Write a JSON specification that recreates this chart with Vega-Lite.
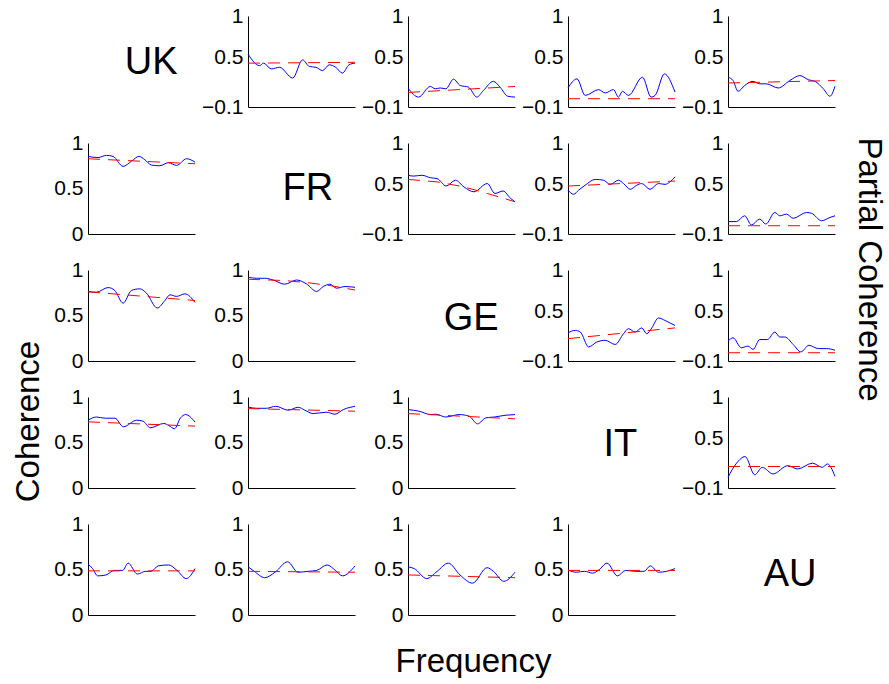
{
"$schema": "https://vega.github.io/schema/vega-lite/v6.json",
"background": "white",
"padding": {"left": 11, "top": 5, "right": 6, "bottom": 0},
"config": {
 "view": {"stroke": null},
 "font": "Liberation Sans",
 "axisX": {"labels": false, "ticks": false, "grid": false, "domainColor": "#000", "domainWidth": 1},
 "axisY": {"ticks": false, "grid": false, "domainColor": "#000", "domainWidth": 1, "labelFontSize": 21, "labelColor": "#000", "labelPadding": 5, "labelFont": "Liberation Sans"},
 "axis": {"titleFont": "Liberation Sans", "titleFontWeight": "normal", "titleColor": "#000", "titleFontSize": 33},
 "text": {"font": "Liberation Sans", "fontSize": 38, "color": "#000"}
},
"datasets": {
 "p12": [{"f":0,"c":0.54,"r":0.43},{"f":10.8,"c":0.40},{"f":14.6,"c":0.43},{"f":21.7,"c":0.36},{"f":29.4,"c":0.38},{"f":41.8,"c":0.25},{"f":51,"c":0.47},{"f":57.3,"c":0.39},{"f":63.5,"c":0.38},{"f":69.7,"c":0.34},{"f":75.9,"c":0.41},{"f":82,"c":0.38},{"f":88.2,"c":0.31},{"f":94.4,"c":0.41},{"f":100,"c":0.43,"r":0.44}],
 "p13": [{"f":0,"c":0.13,"r":0.076},{"f":9.9,"c":0.02},{"f":20.8,"c":0.148},{"f":25.5,"c":0.12},{"f":30.1,"c":0.13},{"f":35.4,"c":0.12},{"f":42.5,"c":0.236},{"f":48.8,"c":0.16},{"f":56.5,"c":0.14},{"f":64.3,"c":0.02},{"f":70.5,"c":0.10},{"f":79.8,"c":0.21},{"f":86,"c":0.14},{"f":93.2,"c":0.03},{"f":100,"c":0.02,"r":0.148}],
 "p14": [{"f":0,"c":0.13,"r":0.0},{"f":8.4,"c":0.24},{"f":16.1,"c":0.04},{"f":28.6,"c":0.11},{"f":34.8,"c":0.07},{"f":42.5,"c":0.11},{"f":47.2,"c":0.02},{"f":50.9,"c":0.09},{"f":56.5,"c":0.04},{"f":69.6,"c":0.26},{"f":77.6,"c":0.02},{"f":81.4,"c":0.04},{"f":90.1,"c":0.30},{"f":100,"c":0.08,"r":0.0}],
 "p15": [{"f":0,"c":0.26,"r":0.19},{"f":4.7,"c":0.22},{"f":9.4,"c":0.09},{"f":15.6,"c":0.16},{"f":23.4,"c":0.21},{"f":29.7,"c":0.18},{"f":35.9,"c":0.18},{"f":46.9,"c":0.13},{"f":57.8,"c":0.22},{"f":67.2,"c":0.28},{"f":75,"c":0.23},{"f":81.3,"c":0.21},{"f":89.1,"c":0.12},{"f":95.3,"c":0.03},{"f":100,"c":0.15,"r":0.22}],
 "p21": [{"f":0,"c":0.853,"r":0.827},{"f":9.4,"c":0.84},{"f":17.2,"c":0.864},{"f":23.4,"c":0.853},{"f":32.8,"c":0.743},{"f":40.6,"c":0.80},{"f":47.8,"c":0.853},{"f":53.1,"c":0.816},{"f":59.4,"c":0.757},{"f":67.2,"c":0.75},{"f":75,"c":0.783},{"f":82.8,"c":0.754},{"f":92.2,"c":0.827},{"f":100,"c":0.79,"r":0.772}],
 "p23": [{"f":0,"c":0.61,"r":0.56},{"f":5.3,"c":0.60},{"f":13.1,"c":0.61},{"f":20.9,"c":0.58},{"f":27.2,"c":0.57,"r":0.53},{"f":35.6,"c":0.48},{"f":44.4,"c":0.55},{"f":52.2,"c":0.47,"r":0.47},{"f":61.6,"c":0.41},{"f":74.1,"c":0.51,"r":0.39},{"f":81.3,"c":0.39},{"f":88.8,"c":0.42},{"f":95.9,"c":0.33},{"f":100,"c":0.29,"r":0.29}],
 "p24": [{"f":0,"c":0.43,"r":0.48},{"f":5.3,"c":0.38},{"f":9.9,"c":0.43},{"f":16.1,"c":0.49},{"f":25.5,"c":0.56},{"f":33.2,"c":0.55},{"f":39.4,"c":0.50},{"f":47.2,"c":0.55},{"f":51.9,"c":0.51},{"f":58.1,"c":0.44},{"f":64.3,"c":0.49},{"f":68.9,"c":0.51},{"f":76.7,"c":0.44},{"f":84.5,"c":0.51},{"f":90.7,"c":0.50},{"f":95.3,"c":0.53},{"f":100,"c":0.59,"r":0.54}],
 "p25": [{"f":0,"c":0.05,"r":0.0},{"f":7.8,"c":0.05},{"f":15.6,"c":0.12},{"f":21.9,"c":0.01},{"f":29.7,"c":0.08},{"f":35.3,"c":0.02},{"f":43.8,"c":0.16},{"f":48.4,"c":0.12},{"f":54.7,"c":0.14},{"f":60.9,"c":0.09},{"f":73.4,"c":0.16},{"f":78.1,"c":0.15},{"f":87.5,"c":0.06},{"f":95.3,"c":0.10},{"f":100,"c":0.12,"r":0.0}],
 "p31": [{"f":0,"c":0.764,"r":0.76},{"f":7.8,"c":0.756},{"f":18.75,"c":0.807},{"f":25,"c":0.775},{"f":32.8,"c":0.636},{"f":40.6,"c":0.775},{"f":48.4,"c":0.793},{"f":54.7,"c":0.745},{"f":64.7,"c":0.582},{"f":71.9,"c":0.665},{"f":76.6,"c":0.727},{"f":82.8,"c":0.71},{"f":90.6,"c":0.738},{"f":100,"c":0.644,"r":0.665}],
 "p32": [{"f":0,"c":0.92,"r":0.898},{"f":7.8,"c":0.909},{"f":15.6,"c":0.909},{"f":23.4,"c":0.89},{"f":34.4,"c":0.844,"r":0.884},{"f":45.3,"c":0.89},{"f":54.7,"c":0.847,"r":0.862},{"f":64.1,"c":0.764},{"f":70.3,"c":0.818},{"f":76.6,"c":0.844,"r":0.829},{"f":82.8,"c":0.80},{"f":90.6,"c":0.818},{"f":100,"c":0.81,"r":0.78}],
 "p34": [{"f":0,"c":0.24,"r":0.17},{"f":6.8,"c":0.27},{"f":11.5,"c":0.25},{"f":19.3,"c":0.07},{"f":27,"c":0.13},{"f":34.8,"c":0.15},{"f":44.1,"c":0.10},{"f":51.9,"c":0.23},{"f":56.5,"c":0.29},{"f":62.7,"c":0.25},{"f":68.9,"c":0.30},{"f":73.6,"c":0.23},{"f":78.3,"c":0.30},{"f":84.5,"c":0.42},{"f":90.7,"c":0.39},{"f":95.3,"c":0.36},{"f":100,"c":0.33,"r":0.30}],
 "p35": [{"f":0,"c":0.14,"r":0.0},{"f":4.7,"c":0.18},{"f":12.5,"c":0.06},{"f":18.75,"c":0.08},{"f":23.4,"c":0.04},{"f":29.7,"c":0.16},{"f":36.9,"c":0.16},{"f":43.75,"c":0.25},{"f":48.4,"c":0.19},{"f":53.1,"c":0.19},{"f":60.9,"c":0.10},{"f":68.1,"c":0.01},{"f":75.6,"c":0.09},{"f":84.4,"c":0.05},{"f":92.2,"c":0.05},{"f":100,"c":0.03,"r":0.0}],
 "p41": [{"f":0,"c":0.745,"r":0.727},{"f":7.9,"c":0.78},{"f":15.7,"c":0.767},{"f":25.2,"c":0.767},{"f":33,"c":0.673},{"f":45.6,"c":0.745},{"f":51.3,"c":0.735},{"f":58.2,"c":0.662},{"f":70.8,"c":0.709},{"f":75.5,"c":0.687},{"f":80.8,"c":0.651},{"f":86.5,"c":0.771},{"f":91.2,"c":0.807},{"f":100,"c":0.724,"r":0.68}],
 "p42": [{"f":0,"c":0.89,"r":0.873},{"f":7.8,"c":0.876},{"f":17.2,"c":0.876},{"f":25.9,"c":0.898},{"f":37.5,"c":0.855},{"f":46.9,"c":0.887},{"f":53.1,"c":0.855},{"f":60.9,"c":0.818},{"f":73.4,"c":0.833},{"f":81.25,"c":0.811},{"f":89.1,"c":0.862},{"f":100,"c":0.898,"r":0.844}],
 "p43": [{"f":0,"c":0.862,"r":0.818},{"f":10.3,"c":0.844},{"f":21.25,"c":0.807},{"f":25.9,"c":0.811},{"f":35.3,"c":0.78},{"f":47.8,"c":0.807},{"f":57.2,"c":0.789},{"f":65,"c":0.705},{"f":72.8,"c":0.771},{"f":80.6,"c":0.78},{"f":91.6,"c":0.80},{"f":100,"c":0.807,"r":0.76}],
 "p45": [{"f":0,"c":0.03,"r":0.16},{"f":8,"c":0.20},{"f":16,"c":0.28},{"f":25,"c":0.06},{"f":32,"c":0.15},{"f":42,"c":0.07},{"f":56,"c":0.17},{"f":65,"c":0.13},{"f":79,"c":0.20},{"f":88,"c":0.15},{"f":93,"c":0.19},{"f":100,"c":0.04,"r":0.16}],
 "p51": [{"f":0,"c":0.56,"r":0.485},{"f":4.3,"c":0.51},{"f":9,"c":0.43},{"f":16.8,"c":0.44},{"f":24.6,"c":0.49},{"f":32.4,"c":0.49},{"f":37.5,"c":0.57},{"f":46.1,"c":0.45},{"f":53.9,"c":0.48},{"f":59,"c":0.48},{"f":65.6,"c":0.54},{"f":75.4,"c":0.55},{"f":83.2,"c":0.49},{"f":91.8,"c":0.40},{"f":100,"c":0.51,"r":0.485}],
 "p52": [{"f":0,"c":0.53,"r":0.48},{"f":5.8,"c":0.48},{"f":15.6,"c":0.41},{"f":25.3,"c":0.47},{"f":37,"c":0.585},{"f":46.7,"c":0.47},{"f":56.4,"c":0.48},{"f":64.2,"c":0.49},{"f":73.9,"c":0.55},{"f":81.7,"c":0.49},{"f":88.3,"c":0.43},{"f":100,"c":0.54,"r":0.47}],
 "p53": [{"f":0,"c":0.53,"r":0.44},{"f":5.8,"c":0.51},{"f":17.5,"c":0.40},{"f":27.2,"c":0.48},{"f":37.7,"c":0.57},{"f":48.6,"c":0.44},{"f":60.3,"c":0.35},{"f":73.9,"c":0.52},{"f":79.8,"c":0.48},{"f":89.5,"c":0.37},{"f":100,"c":0.47,"r":0.41}],
 "p54": [{"f":0,"c":0.495,"r":0.49},{"f":7.7,"c":0.47},{"f":15.4,"c":0.48},{"f":23.1,"c":0.46},{"f":28.8,"c":0.495},{"f":36.5,"c":0.57},{"f":46.2,"c":0.43},{"f":53.8,"c":0.49},{"f":63.5,"c":0.48},{"f":71.2,"c":0.48},{"f":76.9,"c":0.54},{"f":84.6,"c":0.47},{"f":92.3,"c":0.48},{"f":100,"c":0.51,"r":0.49}]
},
"columns": 5,
"spacing": {"row": 36, "column": 53},
"bounds": "flush",
"concat": [
  {"width":107,"height":91,"data":{"values":[{"country":"UK"}]},"mark":{"type":"text"},"encoding":{"text":{"field":"country"},"x":{"datum":0.59,"type":"quantitative","scale":{"domain":[0,1]},"axis":null},"y":{"datum":0.48,"type":"quantitative","scale":{"domain":[0,1]},"axis":null}}},
  {"width":107,"height":91,"data":{"name":"p12"},"layer":[
   {"mark":{"type":"line","color":"#0000ff","strokeWidth":1,"interpolate":"monotone"},"encoding":{"x":{"field":"f","type":"quantitative","scale":{"domain":[0,100]},"axis":{"title":null}},"y":{"field":"c","type":"quantitative","scale":{"domain":[-0.1,1]},"axis":{"title":null,"values":[-0.1,0.5,1],"format":"~g","labelExpr":"datum.value < 0 ? '−0.1' : datum.label"}}}},
   {"transform":[{"filter":"isValid(datum.r)"}],"mark":{"type":"line","color":"#ff0000","strokeWidth":1,"strokeDash":[12,8]},"encoding":{"x":{"field":"f","type":"quantitative","scale":{"domain":[0,100]},"title":null},"y":{"field":"r","type":"quantitative","scale":{"domain":[-0.1,1]},"title":null}}}]},
  {"width":107,"height":91,"data":{"name":"p13"},"layer":[
   {"mark":{"type":"line","color":"#0000ff","strokeWidth":1,"interpolate":"monotone"},"encoding":{"x":{"field":"f","type":"quantitative","scale":{"domain":[0,100]},"axis":{"title":null}},"y":{"field":"c","type":"quantitative","scale":{"domain":[-0.1,1]},"axis":{"title":null,"values":[-0.1,0.5,1],"format":"~g","labelExpr":"datum.value < 0 ? '−0.1' : datum.label"}}}},
   {"transform":[{"filter":"isValid(datum.r)"}],"mark":{"type":"line","color":"#ff0000","strokeWidth":1,"strokeDash":[12,8]},"encoding":{"x":{"field":"f","type":"quantitative","scale":{"domain":[0,100]},"title":null},"y":{"field":"r","type":"quantitative","scale":{"domain":[-0.1,1]},"title":null}}}]},
  {"width":107,"height":91,"data":{"name":"p14"},"layer":[
   {"mark":{"type":"line","color":"#0000ff","strokeWidth":1,"interpolate":"monotone"},"encoding":{"x":{"field":"f","type":"quantitative","scale":{"domain":[0,100]},"axis":{"title":null}},"y":{"field":"c","type":"quantitative","scale":{"domain":[-0.1,1]},"axis":{"title":null,"values":[-0.1,0.5,1],"format":"~g","labelExpr":"datum.value < 0 ? '−0.1' : datum.label"}}}},
   {"transform":[{"filter":"isValid(datum.r)"}],"mark":{"type":"line","color":"#ff0000","strokeWidth":1,"strokeDash":[12,8]},"encoding":{"x":{"field":"f","type":"quantitative","scale":{"domain":[0,100]},"title":null},"y":{"field":"r","type":"quantitative","scale":{"domain":[-0.1,1]},"title":null}}}]},
  {"width":107,"height":91,"data":{"name":"p15"},"layer":[
   {"mark":{"type":"line","color":"#0000ff","strokeWidth":1,"interpolate":"monotone"},"encoding":{"x":{"field":"f","type":"quantitative","scale":{"domain":[0,100]},"axis":{"title":null}},"y":{"field":"c","type":"quantitative","scale":{"domain":[-0.1,1]},"axis":{"title":null,"values":[-0.1,0.5,1],"format":"~g","labelExpr":"datum.value < 0 ? '−0.1' : datum.label"}}}},
   {"transform":[{"filter":"isValid(datum.r)"}],"mark":{"type":"line","color":"#ff0000","strokeWidth":1,"strokeDash":[12,8]},"encoding":{"x":{"field":"f","type":"quantitative","scale":{"domain":[0,100]},"title":null},"y":{"field":"r","type":"quantitative","scale":{"domain":[-0.1,1]},"title":null}}}]},
  {"width":107,"height":91,"data":{"name":"p21"},"layer":[
   {"mark":{"type":"line","color":"#0000ff","strokeWidth":1,"interpolate":"monotone"},"encoding":{"x":{"field":"f","type":"quantitative","scale":{"domain":[0,100]},"axis":{"title":null}},"y":{"field":"c","type":"quantitative","scale":{"domain":[0,1]},"axis":{"title":null,"values":[0,0.5,1],"format":"~g"}}}},
   {"transform":[{"filter":"isValid(datum.r)"}],"mark":{"type":"line","color":"#ff0000","strokeWidth":1,"strokeDash":[12,8]},"encoding":{"x":{"field":"f","type":"quantitative","scale":{"domain":[0,100]},"title":null},"y":{"field":"r","type":"quantitative","scale":{"domain":[0,1]},"title":null}}}]},
  {"width":107,"height":91,"data":{"values":[{"country":"FR"}]},"mark":{"type":"text"},"encoding":{"text":{"field":"country"},"x":{"datum":0.56,"type":"quantitative","scale":{"domain":[0,1]},"axis":null},"y":{"datum":0.5,"type":"quantitative","scale":{"domain":[0,1]},"axis":null}}},
  {"width":107,"height":91,"data":{"name":"p23"},"layer":[
   {"mark":{"type":"line","color":"#0000ff","strokeWidth":1,"interpolate":"monotone"},"encoding":{"x":{"field":"f","type":"quantitative","scale":{"domain":[0,100]},"axis":{"title":null}},"y":{"field":"c","type":"quantitative","scale":{"domain":[-0.1,1]},"axis":{"title":null,"values":[-0.1,0.5,1],"format":"~g","labelExpr":"datum.value < 0 ? '−0.1' : datum.label"}}}},
   {"transform":[{"filter":"isValid(datum.r)"}],"mark":{"type":"line","color":"#ff0000","strokeWidth":1,"strokeDash":[12,8]},"encoding":{"x":{"field":"f","type":"quantitative","scale":{"domain":[0,100]},"title":null},"y":{"field":"r","type":"quantitative","scale":{"domain":[-0.1,1]},"title":null}}}]},
  {"width":107,"height":91,"data":{"name":"p24"},"layer":[
   {"mark":{"type":"line","color":"#0000ff","strokeWidth":1,"interpolate":"monotone"},"encoding":{"x":{"field":"f","type":"quantitative","scale":{"domain":[0,100]},"axis":{"title":null}},"y":{"field":"c","type":"quantitative","scale":{"domain":[-0.1,1]},"axis":{"title":null,"values":[-0.1,0.5,1],"format":"~g","labelExpr":"datum.value < 0 ? '−0.1' : datum.label"}}}},
   {"transform":[{"filter":"isValid(datum.r)"}],"mark":{"type":"line","color":"#ff0000","strokeWidth":1,"strokeDash":[12,8]},"encoding":{"x":{"field":"f","type":"quantitative","scale":{"domain":[0,100]},"title":null},"y":{"field":"r","type":"quantitative","scale":{"domain":[-0.1,1]},"title":null}}}]},
  {"width":107,"height":91,"data":{"name":"p25"},"layer":[
   {"mark":{"type":"line","color":"#0000ff","strokeWidth":1,"interpolate":"monotone"},"encoding":{"x":{"field":"f","type":"quantitative","scale":{"domain":[0,100]},"axis":{"title":null}},"y":{"field":"c","type":"quantitative","scale":{"domain":[-0.1,1]},"axis":{"title":null,"values":[-0.1,0.5,1],"format":"~g","labelExpr":"datum.value < 0 ? '−0.1' : datum.label"}}}},
   {"transform":[{"filter":"isValid(datum.r)"}],"mark":{"type":"line","color":"#ff0000","strokeWidth":1,"strokeDash":[12,8]},"encoding":{"x":{"field":"f","type":"quantitative","scale":{"domain":[0,100]},"title":null},"y":{"field":"r","type":"quantitative","scale":{"domain":[-0.1,1]},"title":null}}}]},
  {"width":107,"height":91,"data":{"name":"p31"},"layer":[
   {"mark":{"type":"line","color":"#0000ff","strokeWidth":1,"interpolate":"monotone"},"encoding":{"x":{"field":"f","type":"quantitative","scale":{"domain":[0,100]},"axis":{"title":null}},"y":{"field":"c","type":"quantitative","scale":{"domain":[0,1]},"axis":{"title":null,"values":[0,0.5,1],"format":"~g"}}}},
   {"transform":[{"filter":"isValid(datum.r)"}],"mark":{"type":"line","color":"#ff0000","strokeWidth":1,"strokeDash":[12,8]},"encoding":{"x":{"field":"f","type":"quantitative","scale":{"domain":[0,100]},"title":null},"y":{"field":"r","type":"quantitative","scale":{"domain":[0,1]},"title":null}}}]},
  {"width":107,"height":91,"data":{"name":"p32"},"layer":[
   {"mark":{"type":"line","color":"#0000ff","strokeWidth":1,"interpolate":"monotone"},"encoding":{"x":{"field":"f","type":"quantitative","scale":{"domain":[0,100]},"axis":{"title":null}},"y":{"field":"c","type":"quantitative","scale":{"domain":[0,1]},"axis":{"title":null,"values":[0,0.5,1],"format":"~g"}}}},
   {"transform":[{"filter":"isValid(datum.r)"}],"mark":{"type":"line","color":"#ff0000","strokeWidth":1,"strokeDash":[12,8]},"encoding":{"x":{"field":"f","type":"quantitative","scale":{"domain":[0,100]},"title":null},"y":{"field":"r","type":"quantitative","scale":{"domain":[0,1]},"title":null}}}]},
  {"width":107,"height":91,"data":{"values":[{"country":"GE"}]},"mark":{"type":"text"},"encoding":{"text":{"field":"country"},"x":{"datum":0.59,"type":"quantitative","scale":{"domain":[0,1]},"axis":null},"y":{"datum":0.46,"type":"quantitative","scale":{"domain":[0,1]},"axis":null}}},
  {"width":107,"height":91,"data":{"name":"p34"},"layer":[
   {"mark":{"type":"line","color":"#0000ff","strokeWidth":1,"interpolate":"monotone"},"encoding":{"x":{"field":"f","type":"quantitative","scale":{"domain":[0,100]},"axis":{"title":null}},"y":{"field":"c","type":"quantitative","scale":{"domain":[-0.1,1]},"axis":{"title":null,"values":[-0.1,0.5,1],"format":"~g","labelExpr":"datum.value < 0 ? '−0.1' : datum.label"}}}},
   {"transform":[{"filter":"isValid(datum.r)"}],"mark":{"type":"line","color":"#ff0000","strokeWidth":1,"strokeDash":[12,8]},"encoding":{"x":{"field":"f","type":"quantitative","scale":{"domain":[0,100]},"title":null},"y":{"field":"r","type":"quantitative","scale":{"domain":[-0.1,1]},"title":null}}}]},
  {"width":107,"height":91,"data":{"name":"p35"},"layer":[
   {"mark":{"type":"line","color":"#0000ff","strokeWidth":1,"interpolate":"monotone"},"encoding":{"x":{"field":"f","type":"quantitative","scale":{"domain":[0,100]},"axis":{"title":null}},"y":{"field":"c","type":"quantitative","scale":{"domain":[-0.1,1]},"axis":{"title":"Partial Coherence","titleX":140,"titleY":-1,"titleAngle":90,"titleAlign":"center","titleBaseline":"middle","values":[-0.1,0.5,1],"format":"~g","labelExpr":"datum.value < 0 ? '−0.1' : datum.label"}}}},
   {"transform":[{"filter":"isValid(datum.r)"}],"mark":{"type":"line","color":"#ff0000","strokeWidth":1,"strokeDash":[12,8]},"encoding":{"x":{"field":"f","type":"quantitative","scale":{"domain":[0,100]},"title":null},"y":{"field":"r","type":"quantitative","scale":{"domain":[-0.1,1]}}}}]},
  {"width":107,"height":91,"data":{"name":"p41"},"layer":[
   {"mark":{"type":"line","color":"#0000ff","strokeWidth":1,"interpolate":"monotone"},"encoding":{"x":{"field":"f","type":"quantitative","scale":{"domain":[0,100]},"axis":{"title":null}},"y":{"field":"c","type":"quantitative","scale":{"domain":[0,1]},"axis":{"title":"Coherence","titleX":-60,"titleY":24,"titleAngle":270,"titleAlign":"center","titleBaseline":"middle","values":[0,0.5,1],"format":"~g"}}}},
   {"transform":[{"filter":"isValid(datum.r)"}],"mark":{"type":"line","color":"#ff0000","strokeWidth":1,"strokeDash":[12,8]},"encoding":{"x":{"field":"f","type":"quantitative","scale":{"domain":[0,100]},"title":null},"y":{"field":"r","type":"quantitative","scale":{"domain":[0,1]}}}}]},
  {"width":107,"height":91,"data":{"name":"p42"},"layer":[
   {"mark":{"type":"line","color":"#0000ff","strokeWidth":1,"interpolate":"monotone"},"encoding":{"x":{"field":"f","type":"quantitative","scale":{"domain":[0,100]},"axis":{"title":null}},"y":{"field":"c","type":"quantitative","scale":{"domain":[0,1]},"axis":{"title":null,"values":[0,0.5,1],"format":"~g"}}}},
   {"transform":[{"filter":"isValid(datum.r)"}],"mark":{"type":"line","color":"#ff0000","strokeWidth":1,"strokeDash":[12,8]},"encoding":{"x":{"field":"f","type":"quantitative","scale":{"domain":[0,100]},"title":null},"y":{"field":"r","type":"quantitative","scale":{"domain":[0,1]},"title":null}}}]},
  {"width":107,"height":91,"data":{"name":"p43"},"layer":[
   {"mark":{"type":"line","color":"#0000ff","strokeWidth":1,"interpolate":"monotone"},"encoding":{"x":{"field":"f","type":"quantitative","scale":{"domain":[0,100]},"axis":{"title":null}},"y":{"field":"c","type":"quantitative","scale":{"domain":[0,1]},"axis":{"title":null,"values":[0,0.5,1],"format":"~g"}}}},
   {"transform":[{"filter":"isValid(datum.r)"}],"mark":{"type":"line","color":"#ff0000","strokeWidth":1,"strokeDash":[12,8]},"encoding":{"x":{"field":"f","type":"quantitative","scale":{"domain":[0,100]},"title":null},"y":{"field":"r","type":"quantitative","scale":{"domain":[0,1]},"title":null}}}]},
  {"width":107,"height":91,"data":{"values":[{"country":"IT"}]},"mark":{"type":"text"},"encoding":{"text":{"field":"country"},"x":{"datum":0.49,"type":"quantitative","scale":{"domain":[0,1]},"axis":null},"y":{"datum":0.47,"type":"quantitative","scale":{"domain":[0,1]},"axis":null}}},
  {"width":107,"height":91,"data":{"name":"p45"},"layer":[
   {"mark":{"type":"line","color":"#0000ff","strokeWidth":1,"interpolate":"monotone"},"encoding":{"x":{"field":"f","type":"quantitative","scale":{"domain":[0,100]},"axis":{"title":null}},"y":{"field":"c","type":"quantitative","scale":{"domain":[-0.1,1]},"axis":{"title":null,"values":[-0.1,0.5,1],"format":"~g","labelExpr":"datum.value < 0 ? '−0.1' : datum.label"}}}},
   {"transform":[{"filter":"isValid(datum.r)"}],"mark":{"type":"line","color":"#ff0000","strokeWidth":1,"strokeDash":[12,8]},"encoding":{"x":{"field":"f","type":"quantitative","scale":{"domain":[0,100]},"title":null},"y":{"field":"r","type":"quantitative","scale":{"domain":[-0.1,1]},"title":null}}}]},
  {"width":107,"height":91,"data":{"name":"p51"},"layer":[
   {"mark":{"type":"line","color":"#0000ff","strokeWidth":1,"interpolate":"monotone"},"encoding":{"x":{"field":"f","type":"quantitative","scale":{"domain":[0,100]},"axis":{"title":null}},"y":{"field":"c","type":"quantitative","scale":{"domain":[0,1]},"axis":{"title":null,"values":[0,0.5,1],"format":"~g"}}}},
   {"transform":[{"filter":"isValid(datum.r)"}],"mark":{"type":"line","color":"#ff0000","strokeWidth":1,"strokeDash":[12,8]},"encoding":{"x":{"field":"f","type":"quantitative","scale":{"domain":[0,100]},"title":null},"y":{"field":"r","type":"quantitative","scale":{"domain":[0,1]},"title":null}}}]},
  {"width":107,"height":91,"data":{"name":"p52"},"layer":[
   {"mark":{"type":"line","color":"#0000ff","strokeWidth":1,"interpolate":"monotone"},"encoding":{"x":{"field":"f","type":"quantitative","scale":{"domain":[0,100]},"axis":{"title":null}},"y":{"field":"c","type":"quantitative","scale":{"domain":[0,1]},"axis":{"title":null,"values":[0,0.5,1],"format":"~g"}}}},
   {"transform":[{"filter":"isValid(datum.r)"}],"mark":{"type":"line","color":"#ff0000","strokeWidth":1,"strokeDash":[12,8]},"encoding":{"x":{"field":"f","type":"quantitative","scale":{"domain":[0,100]},"title":null},"y":{"field":"r","type":"quantitative","scale":{"domain":[0,1]},"title":null}}}]},
  {"width":107,"height":91,"data":{"name":"p53"},"layer":[
   {"mark":{"type":"line","color":"#0000ff","strokeWidth":1,"interpolate":"monotone"},"encoding":{"x":{"field":"f","type":"quantitative","scale":{"domain":[0,100]},"axis":{"title":"Frequency","titleX":65,"titleY":46,"titleAlign":"center","titleBaseline":"middle"}},"y":{"field":"c","type":"quantitative","scale":{"domain":[0,1]},"axis":{"title":null,"values":[0,0.5,1],"format":"~g"}}}},
   {"transform":[{"filter":"isValid(datum.r)"}],"mark":{"type":"line","color":"#ff0000","strokeWidth":1,"strokeDash":[12,8]},"encoding":{"x":{"field":"f","type":"quantitative","scale":{"domain":[0,100]}},"y":{"field":"r","type":"quantitative","scale":{"domain":[0,1]},"title":null}}}]},
  {"width":107,"height":91,"data":{"name":"p54"},"layer":[
   {"mark":{"type":"line","color":"#0000ff","strokeWidth":1,"interpolate":"monotone"},"encoding":{"x":{"field":"f","type":"quantitative","scale":{"domain":[0,100]},"axis":{"title":null}},"y":{"field":"c","type":"quantitative","scale":{"domain":[0,1]},"axis":{"title":null,"values":[0,0.5,1],"format":"~g"}}}},
   {"transform":[{"filter":"isValid(datum.r)"}],"mark":{"type":"line","color":"#ff0000","strokeWidth":1,"strokeDash":[12,8]},"encoding":{"x":{"field":"f","type":"quantitative","scale":{"domain":[0,100]},"title":null},"y":{"field":"r","type":"quantitative","scale":{"domain":[0,1]},"title":null}}}]},
  {"width":107,"height":91,"data":{"values":[{"country":"AU"}]},"mark":{"type":"text"},"encoding":{"text":{"field":"country"},"x":{"datum":0.58,"type":"quantitative","scale":{"domain":[0,1]},"axis":null},"y":{"datum":0.44,"type":"quantitative","scale":{"domain":[0,1]},"axis":null}}}
]
}
